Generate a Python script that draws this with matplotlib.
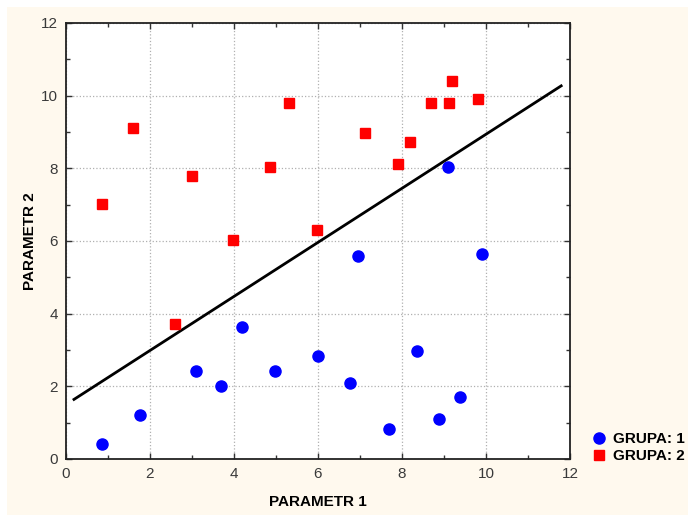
import matplotlib.pyplot as plt
from matplotlib.patches import Rectangle
from matplotlib.ticker import MultipleLocator

plt.rcParams['font.family'] = ['Liberation Sans', 'DejaVu Sans']

# GRUPA 1 (blue circles)
g1_x = [0.86, 1.76, 3.10, 3.69, 4.20, 4.98, 6.01, 6.76, 6.96, 7.68, 8.36, 8.88, 9.10, 9.39, 9.91]
g1_y = [0.40, 1.22, 2.42, 2.01, 3.64, 2.42, 2.83, 2.10, 5.60, 0.82, 2.98, 1.10, 8.03, 1.70, 5.65]

# GRUPA 2 (red squares)
g2_x = [0.86, 1.60, 2.60, 3.00, 3.98, 4.86, 5.30, 5.98, 7.12, 7.90, 8.20, 8.69, 9.13, 9.18, 9.81]
g2_y = [7.02, 9.10, 3.71, 7.80, 6.02, 8.04, 9.80, 6.30, 8.98, 8.13, 8.73, 9.79, 9.79, 10.40, 9.90]

# separating line
line_x = [0.19, 11.79]
line_y = [1.64, 10.27]

fig = plt.figure(figsize=(6.88, 5.15), dpi=100, facecolor='white')
fig.patches.append(Rectangle((7 / 688, 0), 1, 508 / 515, transform=fig.transFigure,
                             facecolor='#fff9ee', edgecolor='none', zorder=-10))

ax = fig.add_axes([66 / 688, 56 / 515, 504 / 688, 436 / 515])
ax.set_facecolor('white')

ax.plot(line_x, line_y, color='black', lw=2, zorder=3)
ax.plot(g1_x, g1_y, 'o', color='#0000ff', ms=8, mec='#0000ff', label='GRUPA: 1', zorder=4)
ax.plot(g2_x, g2_y, 's', color='#ff0000', ms=7.3, mec='#ff0000', label='GRUPA: 2', zorder=4)

ax.set_xlim(0, 12)
ax.set_ylim(0, 12)
ax.xaxis.set_major_locator(MultipleLocator(2))
ax.yaxis.set_major_locator(MultipleLocator(2))
ax.xaxis.set_minor_locator(MultipleLocator(1))
ax.yaxis.set_minor_locator(MultipleLocator(1))
ax.tick_params(which='both', direction='in', top=True, right=True, color='#333333')
ax.tick_params(which='major', length=4, width=1, labelsize=11, labelcolor='#3a3a3a', pad=6)
ax.tick_params(which='minor', length=3, width=1)
ax.grid(True, which='major', linestyle=':', color='#b0b0b0', lw=0.9)
for s in ax.spines.values():
    s.set_linewidth(1.3)
    s.set_color('#222222')

ax.set_xlabel('PARAMETR 1', fontsize=11, fontweight='bold', labelpad=10)
ax.set_ylabel('PARAMETR 2', fontsize=11, fontweight='bold', labelpad=3)

ax.legend(loc='upper left', bbox_to_anchor=(1.03, 0.075), frameon=False,
          prop={'weight': 'bold', 'size': 11}, handlelength=1,
          handletextpad=0.4, labelspacing=0.2, borderaxespad=0)

fig.savefig('out.png', dpi=100, facecolor=fig.get_facecolor())
